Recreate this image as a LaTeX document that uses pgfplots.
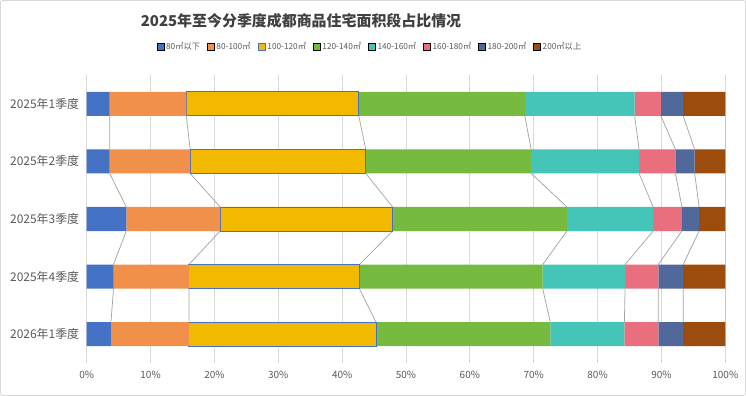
\documentclass[border=0pt]{standalone}
\usepackage{fontspec}
\setmainfont{Noto Sans CJK SC}
\usepackage{pgfplots}
\usepackage{pgfplotstable}
\pgfplotsset{compat=1.18}
\definecolor{cA}{HTML}{4472C4}
\definecolor{cB}{HTML}{F0904A}
\definecolor{cC}{HTML}{F1B900}
\definecolor{cD}{HTML}{76BB40}
\definecolor{cE}{HTML}{44C5B8}
\definecolor{cF}{HTML}{EA6F7E}
\definecolor{cG}{HTML}{51699A}
\definecolor{cH}{HTML}{9C4D0E}
\definecolor{gridgray}{HTML}{D9D9D9}
\definecolor{labelgray}{HTML}{595959}
\definecolor{titlegray}{HTML}{404040}
\definecolor{linegray}{HTML}{A6A6A6}

\pgfplotstableread{
y a b c d e f g h
0 3.6 12.0 27.0 26.0 17.2 4.1 3.5 6.6
1 3.6 12.6 27.5 25.9 16.9 5.7 3.0 4.8
2 6.2 14.7 27.0 27.3 13.5 4.5 2.7 4.1
3 4.2 11.8 26.7 28.7 12.9 5.2 3.9 6.6
4 3.8 12.2 29.3 27.3 11.6 5.3 3.9 6.6
}\data

\begin{document}
\begin{tikzpicture}
\useasboundingbox (0,0) rectangle (746bp,396bp);
\draw[color=gridgray, line width=0.8bp, rounded corners=2bp] (0.5bp,0.5bp) rectangle (745.5bp,395.5bp);
\node[font=\fontsize{15}{18}\selectfont\bfseries, text=titlegray] at (301bp,375.5bp) {2025年至今分季度成都商品住宅面积段占比情况};
\begin{axis}[
  at={(86.7bp,33bp)}, anchor=south west, scale only axis,
  width=638.6bp, height=288bp,
  xbar stacked, bar width=0.417,
  xmin=0, xmax=100, ymin=-0.5, ymax=4.5, y dir=reverse,
  xtick={0,10,...,100},
  xticklabels={0\%,10\%,20\%,30\%,40\%,50\%,60\%,70\%,80\%,90\%,100\%},
  ytick={0,1,2,3,4},
  yticklabels={2025年1季度,2025年2季度,2025年3季度,2025年4季度,2026年1季度},
  axis line style={draw=none},
  major tick length=0pt,
  xmajorgrids, grid style={gridgray, line width=0.75bp},
  xticklabel style={font=\fontsize{10}{12}\selectfont, text=labelgray},
  yticklabel style={font=\fontsize{12}{14}\selectfont, text=labelgray},
  xticklabel shift=5bp, yticklabel shift=4bp,
  unbounded coords=jump,
  legend columns=8,
  legend cell align=left,
  legend image code/.code={\draw[#1] (0bp,-3.5bp) rectangle (7bp,3.5bp);},
  legend style={at={(0.4436,1.097)}, anchor=center, draw=none, fill=none,
    font=\fontsize{8.3}{10}\selectfont, text=labelgray,
    /tikz/every even column/.append style={column sep=5bp}},
]
\addplot[fill=cA, draw=none] table[x=a,y=y]{\data};
\addplot[fill=cB, draw=none] table[x=b,y=y]{\data};
\addplot[fill=cC, draw=cA, line width=0.9bp] table[x=c,y=y]{\data};
\addplot[fill=cD, draw=none] table[x=d,y=y]{\data};
\addplot[fill=cE, draw=none] table[x=e,y=y]{\data};
\addplot[fill=cF, draw=none] table[x=f,y=y]{\data};
\addplot[fill=cG, draw=none] table[x=g,y=y]{\data};
\addplot[fill=cH, draw=none] table[x=h,y=y]{\data};
\legend{80㎡以下,80-100㎡,100-120㎡,120-140㎡,140-160㎡,160-180㎡,180-200㎡,200㎡以上}

\addplot[stack plots=false, sharp plot, no markers, linegray, line width=0.75bp, forget plot] coordinates {
 (3.6,0.2085) (3.6,0.7915) (0,nan) (3.6,1.2085) (6.2,1.7915) (0,nan) (6.2,2.2085) (4.2,2.7915) (0,nan) (4.2,3.2085) (3.8,3.7915)};
\addplot[stack plots=false, sharp plot, no markers, linegray, line width=0.75bp, forget plot] coordinates {
 (15.6,0.2085) (16.2,0.7915) (0,nan) (16.2,1.2085) (20.9,1.7915) (0,nan) (20.9,2.2085) (16.0,2.7915) (0,nan) (16.0,3.2085) (16.0,3.7915)};
\addplot[stack plots=false, sharp plot, no markers, linegray, line width=0.75bp, forget plot] coordinates {
 (42.6,0.2085) (43.7,0.7915) (0,nan) (43.7,1.2085) (47.9,1.7915) (0,nan) (47.9,2.2085) (42.7,2.7915) (0,nan) (42.7,3.2085) (45.3,3.7915)};
\addplot[stack plots=false, sharp plot, no markers, linegray, line width=0.75bp, forget plot] coordinates {
 (68.6,0.2085) (69.6,0.7915) (0,nan) (69.6,1.2085) (75.2,1.7915) (0,nan) (75.2,2.2085) (71.4,2.7915) (0,nan) (71.4,3.2085) (72.6,3.7915)};
\addplot[stack plots=false, sharp plot, no markers, linegray, line width=0.75bp, forget plot] coordinates {
 (85.8,0.2085) (86.5,0.7915) (0,nan) (86.5,1.2085) (88.7,1.7915) (0,nan) (88.7,2.2085) (84.3,2.7915) (0,nan) (84.3,3.2085) (84.2,3.7915)};
\addplot[stack plots=false, sharp plot, no markers, linegray, line width=0.75bp, forget plot] coordinates {
 (89.9,0.2085) (92.2,0.7915) (0,nan) (92.2,1.2085) (93.2,1.7915) (0,nan) (93.2,2.2085) (89.5,2.7915) (0,nan) (89.5,3.2085) (89.5,3.7915)};
\addplot[stack plots=false, sharp plot, no markers, linegray, line width=0.75bp, forget plot] coordinates {
 (93.4,0.2085) (95.2,0.7915) (0,nan) (95.2,1.2085) (95.9,1.7915) (0,nan) (95.9,2.2085) (93.4,2.7915) (0,nan) (93.4,3.2085) (93.4,3.7915)};
\addplot[stack plots=false, sharp plot, no markers, linegray, line width=0.75bp, forget plot] coordinates {
 (100,0.2085) (100,0.7915) (0,nan) (100,1.2085) (100,1.7915) (0,nan) (100,2.2085) (100,2.7915) (0,nan) (100,3.2085) (100,3.7915)};
\end{axis}
\end{tikzpicture}
\end{document}
